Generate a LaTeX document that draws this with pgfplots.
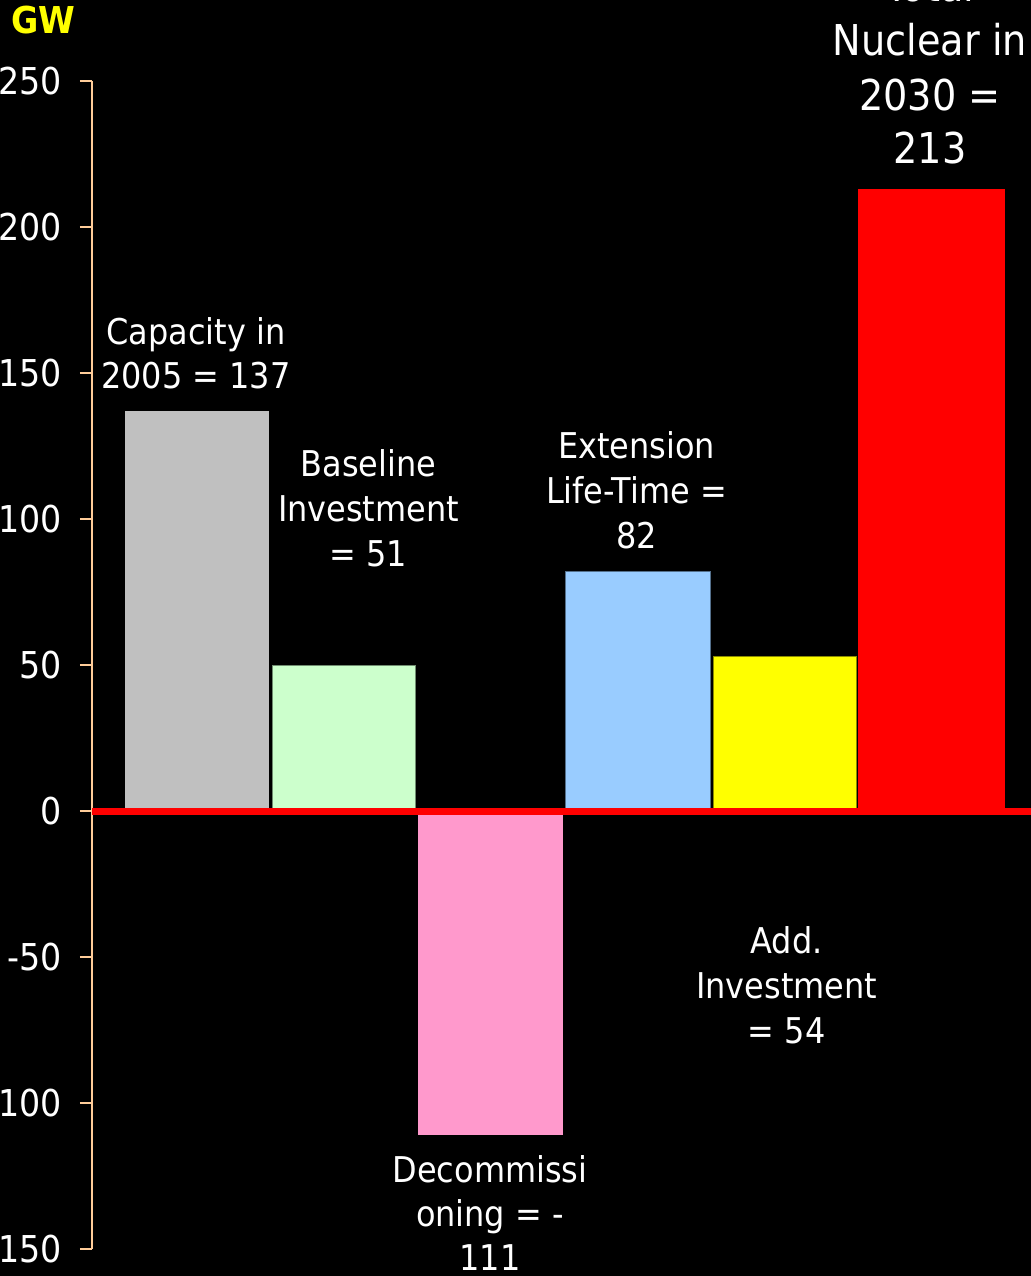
\documentclass[border=0pt]{standalone}
\usepackage{pgfplots}
\pgfplotsset{compat=1.18}
\usepackage{fontspec}
\setmainfont{DejaVu Sans Condensed}
\definecolor{axiscol}{RGB}{255,204,153}
\definecolor{cgray}{RGB}{192,192,192}
\definecolor{cgreen}{RGB}{204,255,204}
\definecolor{cpink}{RGB}{255,153,204}
\definecolor{cblue}{RGB}{153,204,255}
\definecolor{cyellow}{RGB}{255,255,0}
\definecolor{cred}{RGB}{255,0,0}
\newcommand\tfont{\fontsize{18.5pt}{22pt}\selectfont}
\newcommand\lfont{\fontsize{17.75pt}{22pt}\selectfont}
\newcommand\bfont{\fontsize{21.25pt}{26pt}\selectfont}
\begin{document}
\begin{tikzpicture}
\fill[black] (0,0) rectangle (515.5pt,-638pt);
\begin{axis}[
  at={(46pt,-624.65pt)}, anchor=south west, scale only axis,
  width=469.5pt, height=584.15pt,
  xmin=-0.715, xmax=5.677, ymin=-150, ymax=250,
  axis x line=none, axis y line=left,
  axis line style={-},
  y axis line style={draw=axiscol, line width=1pt, -},
  ytick={-150,-100,-50,0,50,100,150,200,250},
  yticklabels={-150,-100,-50,0,50,100,150,200,250},
  tick align=outside, major tick length=6pt,
  ytick style={draw=axiscol, line width=1pt},
  yticklabel style={font=\tfont, text=white, anchor=east, inner sep=0pt, xshift=-9pt},
  clip=false,
]
\addplot[ybar, bar width=0.985, bar shift=0pt, fill=cgray, draw=none] coordinates {(0,137)};
\addplot[ybar, bar width=0.975, bar shift=0pt, fill=cgreen, draw=cgreen!55!black, line width=0.5pt] coordinates {(1,50)};
\addplot[ybar, bar width=0.985, bar shift=0pt, fill=cpink, draw=none] coordinates {(2,-111)};
\addplot[ybar, bar width=0.985, bar shift=0pt, fill=cblue, draw=cblue!55!black, line width=0.5pt] coordinates {(3,82)};
\addplot[ybar, bar width=0.975, bar shift=0pt, fill=cyellow, draw=cyellow!55!black, line width=0.5pt] coordinates {(4,53)};
\addplot[ybar, bar width=1.0, bar shift=0pt, fill=cred, draw=none] coordinates {(5,213)};
\addplot[cred, line width=3.4pt] coordinates {(-0.715,0) (5.677,0)};
\end{axis}
\begin{scope}[x=0.5pt, y=-0.5pt, every node/.style={text=white, inner sep=0pt, anchor=base}]
\node[font=\bfseries\fontsize{18.5pt}{20pt}\selectfont, text=cyellow, anchor=base west] at (11,33) {GW};
\node[font=\lfont] at (196,344) {Capacity in};
\node[font=\lfont] at (196,388) {2005 = 137};
\node[font=\lfont] at (368.5,476.7) {Baseline};
\node[font=\lfont] at (368.5,521.7) {Investment};
\node[font=\lfont] at (368.5,566.7) {= 51};
\node[font=\lfont] at (490,1182.7) {Decommissi};
\node[font=\lfont] at (490,1226.7) {oning = -};
\node[font=\lfont] at (490,1270) {111};
\node[font=\lfont] at (636.5,458.3) {Extension};
\node[font=\lfont] at (636.5,503.3) {Life-Time =};
\node[font=\lfont] at (636.5,548.3) {82};
\node[font=\lfont] at (786.7,953.3) {Add.};
\node[font=\lfont] at (786.7,998.3) {Investment};
\node[font=\lfont] at (786.7,1043.3) {= 54};
\node[font=\bfont] at (930,1) {Total};
\node[font=\bfont] at (930,55) {Nuclear in};
\node[font=\bfont] at (930,110) {2030 =};
\node[font=\bfont] at (930,163.3) {213};
\end{scope}
\pgfresetboundingbox
\useasboundingbox (0,0) rectangle (515.5pt,-638pt);
\end{tikzpicture}
\end{document}
